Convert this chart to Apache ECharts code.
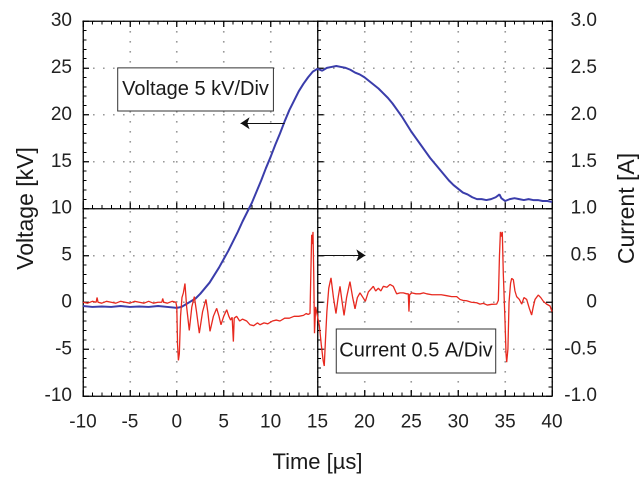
<!DOCTYPE html>
<html>
<head>
<meta charset="utf-8">
<script src="https://cdn.jsdelivr.net/npm/echarts@6/dist/echarts.min.js"></script>
<style>
html,body{margin:0;padding:0;background:#fff;overflow:hidden;width:639px;height:477px;}
#c{width:1278px;height:954px;position:absolute;left:0;top:0;transform:scale(0.5);transform-origin:0 0;}
</style>
</head>
<body>
<div id="c"></div>
<script>
// ---- data ----
const voltageTime = [-10,-9,-8,-7,-6,-5,-4,-3,-2,-1,0,0.5,1,1.5,2,2.5,3,3.5,4,4.5,5,5.5,6,6.5,7,7.5,8,8.5,9,9.5,10,10.5,11,11.5,12,12.5,13,13.5,14,14.5,15,15.5,16,16.5,17,17.5,18,18.5,19,19.5,20,20.5,21,21.5,22,22.5,23,23.5,24,24.5,25,25.5,26,26.5,27,27.5,28,28.5,29,29.5,30,30.5,31,31.5,32,32.5,33,33.5,34,34.4,34.6,35,35.5,36,36.5,37,37.5,38,38.5,39,39.5,40];
const voltageKV = [-0.4,-0.5,-0.45,-0.5,-0.4,-0.5,-0.45,-0.5,-0.4,-0.5,-0.6,-0.5,-0.2,0.1,0.4,0.9,1.5,2.1,2.9,3.7,4.6,5.5,6.5,7.5,8.6,9.6,10.6,11.8,13.0,14.3,15.5,16.8,18.0,19.3,20.5,21.5,22.5,23.3,24.0,24.6,24.9,24.7,25.0,25.1,25.2,25.1,25.0,24.8,24.5,24.3,24.0,23.6,23.2,22.8,22.3,21.8,21.2,20.5,19.8,19.0,18.2,17.5,16.8,16.1,15.4,14.8,14.2,13.6,13.0,12.5,12.1,11.7,11.5,11.2,11.0,11.0,10.9,11.0,11.2,11.5,11.1,10.8,11.0,11.1,11.0,10.9,11.0,10.9,10.9,10.8,10.8,10.7];

const currentTime = [-10,-9.5,-9,-8.6,-8.5,-8.4,-8,-7.5,-7,-6.5,-6,-5.5,-5,-4.5,-4,-3.5,-3,-2.5,-2,-1.6,-1.5,-1.4,-1,-0.5,-0.1,
  0.0,0.08,0.17,0.27,0.4,0.55,0.7,0.87,1.05,1.33,1.6,1.87,2.1,2.4,2.75,3.11,3.3,3.54,3.9,4.25,4.5,4.71,5.0,5.32,5.55,5.74,5.9,6.03,6.12,6.38,6.7,7.0,7.45,7.8,8.2,8.6,8.87,9.3,9.7,10.2,10.6,11.0,11.5,12.0,12.5,13.0,13.5,13.8,14.0,14.2,
  14.3,14.38,14.45,14.52,14.6,14.68,14.8,15.0,15.2,15.4,15.6,15.72,15.85,16.0,16.2,16.44,16.7,16.97,17.2,17.4,17.6,17.83,18.1,18.46,18.75,19.0,19.25,19.53,19.85,20.1,20.42,20.78,20.95,21.2,21.49,21.75,22.02,22.4,22.73,23.08,23.3,23.44,23.8,24.15,24.5,24.68,24.75,24.82,25.04,25.5,25.93,26.3,26.64,27.2,27.7,28.2,28.77,29.3,29.84,30.19,30.5,30.9,31.4,31.97,32.32,32.68,33.1,33.57,34.1,
  34.28,34.4,34.5,34.6,34.7,34.81,34.99,35.1,35.17,35.3,35.42,35.58,35.7,35.88,36.05,36.23,36.52,36.77,37.01,37.3,37.58,37.83,38.0,38.19,38.54,38.8,39.08,39.43,39.79,40];
const currentA = [0.0,-0.01,0.01,0.0,0.05,0.0,-0.01,0.01,0.0,-0.01,0.01,0.0,-0.01,0.01,0.0,-0.01,0.01,-0.01,0.0,0.0,0.04,0.0,-0.01,0.01,0.0,
  -0.05,-0.45,-0.62,-0.55,-0.15,0.05,0.1,0.2,-0.05,-0.3,-0.05,0.06,-0.1,-0.33,-0.1,0.03,-0.1,-0.31,-0.15,-0.065,-0.15,-0.24,-0.15,-0.08,-0.15,-0.19,-0.16,-0.42,-0.17,-0.15,-0.2,-0.18,-0.2,-0.24,-0.25,-0.22,-0.24,-0.22,-0.23,-0.2,-0.19,-0.2,-0.17,-0.17,-0.15,-0.15,-0.14,-0.12,-0.13,-0.12,
  0.35,0.72,0.62,0.75,0.3,-0.33,-0.05,-0.15,-0.25,-0.45,-0.62,-0.68,-0.4,-0.1,0.15,0.26,0.05,-0.12,0.05,0.17,0.02,-0.14,0.05,0.22,0.05,-0.07,0.05,0.1,0.05,0.01,0.11,0.15,0.17,0.12,0.15,0.12,0.17,0.16,0.19,0.17,0.12,0.09,0.1,0.1,0.09,0.09,-0.1,0.08,0.1,0.09,0.09,0.1,0.09,0.08,0.08,0.08,0.07,0.06,0.06,0.03,0.02,0.016,0.0,-0.005,-0.02,-0.012,-0.03,-0.022,-0.02,
  0.02,0.5,0.75,0.7,0.75,0.3,-0.2,-0.55,-0.64,-0.5,0.0,0.2,0.255,0.24,0.12,0.06,0.03,-0.02,0.05,0.03,-0.065,-0.136,-0.05,0.03,0.077,0.05,0.01,-0.02,-0.04,-0.1];

const currentTickLabels = ['-1.0','-0.5','0','0.5','1.0','1.5','2.0','2.5','3.0'];

// ---- chart (drawn at 2x and scaled down by CSS) ----
const S = 2;
const FONT = '"Liberation Sans", Arial, sans-serif';
const AXC = '#000';
const chart = echarts.init(document.getElementById('c'));

function frameX(extra) {
  return Object.assign({
    type: 'value', min: -10, max: 40, interval: 5, gridIndex: 0,
    axisLine: {show: true, onZero: false, lineStyle: {color: AXC, width: 1.3 * S}},
    axisTick: {show: true, inside: true, length: 6 * S, lineStyle: {color: AXC, width: 1.25 * S}},
    minorTick: {show: true, splitNumber: 5, length: 3.5 * S, lineStyle: {color: AXC, width: 1 * S}},
    axisLabel: {show: false}, splitLine: {show: false}
  }, extra);
}
function frameY(extra) {
  return Object.assign({
    type: 'value', min: -10, max: 30, interval: 5, gridIndex: 0,
    axisLine: {show: true, onZero: false, lineStyle: {color: AXC, width: 1.3 * S}},
    axisTick: {show: true, inside: true, length: 6 * S, lineStyle: {color: AXC, width: 1.25 * S}},
    minorTick: {show: true, splitNumber: 5, length: 3.5 * S, lineStyle: {color: AXC, width: 1 * S}},
    axisLabel: {show: false}, splitLine: {show: false}
  }, extra);
}
const dotted = {show: true, lineStyle: {color: '#999', width: 1.6 * S, type: [1.6 * S, 8.4 * S]}};
const labelStyle = {show: true, color: '#222', fontSize: 19 * S, fontFamily: FONT};
const nameStyle = {color: '#1a1a1a', fontFamily: FONT};

const option = {
  animation: false,
  backgroundColor: '#fff',
  grid: {left: 83 * S, right: 87 * S, top: 21 * S, bottom: 81 * S, containLabel: false, outerBoundsMode: 'none'},
  xAxis: [
    frameX({
      position: 'bottom',
      axisLabel: Object.assign({}, labelStyle, {margin: 17 * S}),
      splitLine: dotted,
      name: 'Time [µs]', nameLocation: 'middle', nameGap: 56 * S,
      nameTextStyle: Object.assign({}, nameStyle, {fontSize: 22 * S})
    }),
    frameX({position: 'top'}),
    frameX({position: 'bottom', offset: -187.5 * S})
  ],
  yAxis: [
    frameY({
      position: 'left',
      axisLabel: Object.assign({}, labelStyle, {margin: 11 * S}),
      splitLine: dotted,
      name: 'Voltage [kV]', nameLocation: 'middle', nameGap: 45 * S, nameRotate: 90,
      nameTextStyle: Object.assign({}, nameStyle, {fontSize: 23 * S})
    }),
    frameY({
      position: 'right', min: -1, max: 3, interval: 0.5,
      axisLabel: Object.assign({}, labelStyle, {margin: 45 * S, align: 'right',
        formatter: v => currentTickLabels[Math.round((v + 1) / 0.5)]}),
      name: 'Current [A]', nameLocation: 'middle', nameGap: 64 * S, nameRotate: 90,
      nameTextStyle: Object.assign({}, nameStyle, {fontSize: 23 * S})
    }),
    frameY({position: 'left', offset: -234.5 * S})
  ],
  series: [
    {
      name: 'Voltage', type: 'line', xAxisIndex: 0, yAxisIndex: 0,
      showSymbol: false, silent: true,
      lineStyle: {color: '#3a3dab', width: 2 * S},
      data: voltageTime.map((t, i) => [t, voltageKV[i]]),
      markLine: {
        silent: true, symbol: ['none', 'arrow'], symbolSize: 9 * S,
        label: {show: false},
        itemStyle: {color: '#111'},
        lineStyle: {color: '#111', width: 1 * S, type: 'solid'},
        data: [[{coord: [11.5, 19.1]}, {coord: [6.8, 19.1]}]]
      }
    },
    {
      name: 'Current', type: 'line', xAxisIndex: 0, yAxisIndex: 1,
      showSymbol: false, silent: true,
      lineStyle: {color: '#e8291f', width: 1.3 * S},
      data: currentTime.map((t, i) => [t, currentA[i]]),
      markLine: {
        silent: true, symbol: ['none', 'arrow'], symbolSize: 9 * S,
        label: {show: false},
        itemStyle: {color: '#111'},
        lineStyle: {color: '#111', width: 1 * S, type: 'solid'},
        data: [[{coord: [15.05, 0.5]}, {coord: [20.1, 0.5]}]]
      }
    }
  ]
};
chart.setOption(option);

// annotation boxes placed in data coordinates
function box(yIdx, a, b, text, fs) {
  const p1 = chart.convertToPixel({xAxisIndex: 0, yAxisIndex: yIdx}, a);
  const p2 = chart.convertToPixel({xAxisIndex: 0, yAxisIndex: yIdx}, b);
  const x = Math.min(p1[0], p2[0]), y = Math.min(p1[1], p2[1]);
  const w = Math.abs(p2[0] - p1[0]), h = Math.abs(p2[1] - p1[1]);
  return [
    {type: 'rect', shape: {x: x, y: y, width: w, height: h}, z: 10,
      style: {fill: '#fff', stroke: '#333', lineWidth: 1 * S}},
    {type: 'text', x: x + w / 2, y: y + h / 2, z: 11,
      style: {text: text, fill: '#1a1a1a', font: (fs * S) + 'px ' + FONT, align: 'center', verticalAlign: 'middle'}}
  ];
}
chart.setOption({
  graphic: [].concat(
    box(0, [-6.3, 25.0], [10.3, 20.4], 'Voltage 5 kV/Div', 20),
    box(1, [17.0, -0.285], [34.0, -0.755], 'Current 0.5 A/Div', 20)
  )
});
</script>
</body>
</html>
